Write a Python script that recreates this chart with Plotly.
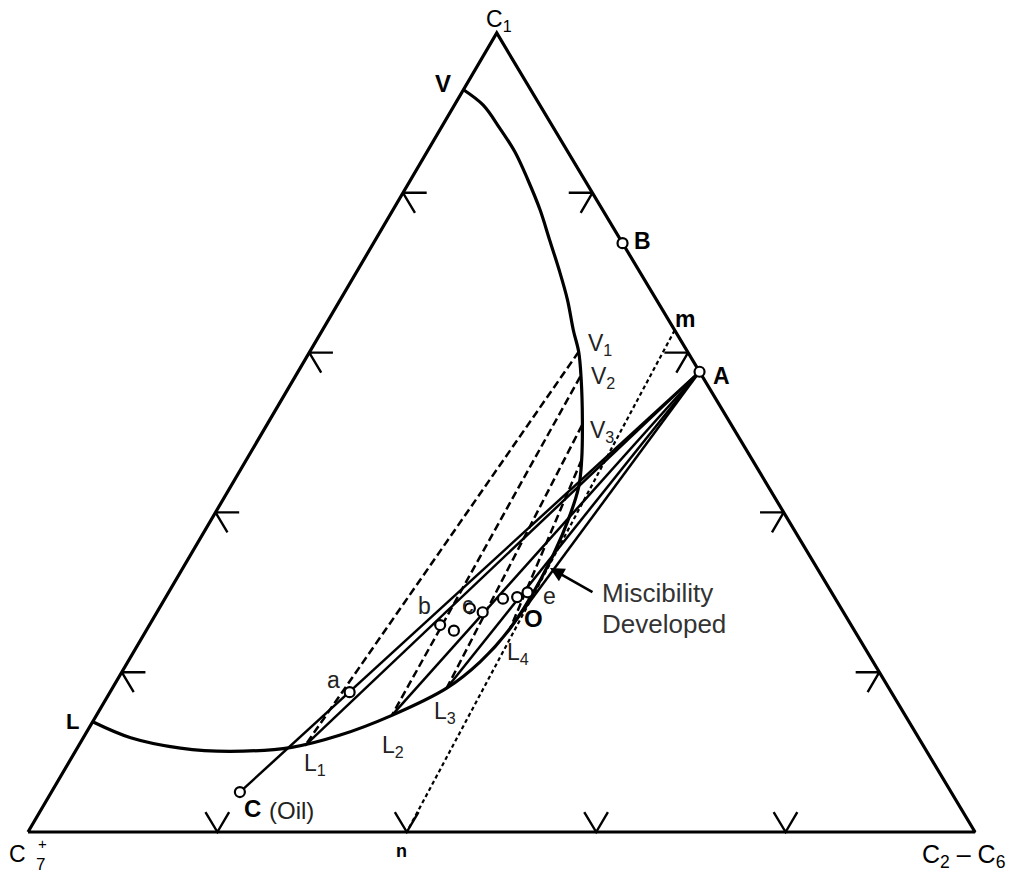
import plotly.graph_objects as go

# ---------------- data (mole fractions: C1, C2-C6; C7+ = 1 - C1 - C2C6) ----------------
# two-phase envelope: dew branch V -> plait point, then bubble branch back to L
DEW_C1 = [0.929, 0.910, 0.881, 0.851, 0.816, 0.779, 0.741, 0.703, 0.666, 0.628, 0.601,
          0.566, 0.516, 0.466, 0.431]
DEW_C26 = [0.000, 0.030, 0.062, 0.093, 0.124, 0.155, 0.184, 0.213, 0.240, 0.265, 0.284,
           0.304, 0.330, 0.354, 0.368]
BUB_C1 = [0.372, 0.315, 0.255, 0.213, 0.180, 0.146, 0.121, 0.106, 0.101, 0.105, 0.118, 0.138]
BUB_C26 = [0.380, 0.385, 0.383, 0.372, 0.353, 0.312, 0.269, 0.226, 0.163, 0.109, 0.050, 0.000]

# tie lines V_i - L_i
TIE_V_C1 = [0.601, 0.570, 0.509, 0.466]
TIE_V_C26 = [0.284, 0.301, 0.333, 0.354]
TIE_L_C1 = [0.108, 0.146, 0.180, 0.255]
TIE_L_C26 = [0.239, 0.312, 0.353, 0.383]

# injection gas A, gas B, oil C
GAS_A = (0.576, 0.424)
GAS_B = (0.737, 0.263)
OIL_C = (0.050, 0.199)

# critical (limiting) tie line m - n
CRIT_M = (0.628, 0.372)
CRIT_N = (0.000, 0.400)

# mixtures a, b, c, d, e (open circles)
MIX_C1 = [0.175, 0.259, 0.252, 0.280, 0.275, 0.292, 0.294, 0.300]
MIX_C26 = [0.253, 0.307, 0.325, 0.328, 0.344, 0.357, 0.371, 0.379]

# composition ticks along each side
TICKS = [0.2, 0.4, 0.6, 0.8]

# ---------------- helpers ----------------
APEX = 0.495   # horizontal position of the C1 apex (fraction of base)
TICK_LEN = 0.025
FONT = "Liberation Sans, Arial, sans-serif"


def xy(c1, c26):
    return c26 + APEX * c1, c1


def lines_trace(polys, width, dash="solid"):
    xs, ys = [], []
    for poly in polys:
        for (c1, c26) in poly:
            x, y = xy(c1, c26)
            xs.append(x)
            ys.append(y)
        xs.append(None)
        ys.append(None)
    return go.Scatter(x=xs, y=ys, mode="lines",
                      line=dict(color="black", width=width, dash=dash),
                      hoverinfo="skip", showlegend=False)


fig = go.Figure()

# triangle
tri = [(0, 0), (0, 1), (1, 0), (0, 0)]
fig.add_trace(lines_trace([tri], 3.2))

# chevron ticks
s = TICK_LEN
chev = []
for t in TICKS:
    chev.append([(s, t), (0, t), (s, t - s)])                 # bottom (C7+ - C2-C6)
    chev.append([(t, s), (t, 0), (t - s, s)])                 # left   (C7+ - C1)
    chev.append([(t, 1 - t - s), (t, 1 - t), (t - s, 1 - t)])  # right  (C1 - C2-C6)
fig.add_trace(lines_trace(chev, 2.4))

# binodal envelope
env = list(zip(DEW_C1, DEW_C26)) + list(zip(BUB_C1, BUB_C26))
xe, ye = zip(*[xy(a, b) for a, b in env])
fig.add_trace(go.Scatter(x=xe, y=ye, mode="lines",
                         line=dict(color="black", width=3.2, shape="spline", smoothing=1.0),
                         hoverinfo="skip", showlegend=False))

# tie lines (dashed)
ties = [[(TIE_V_C1[i], TIE_V_C26[i]), (TIE_L_C1[i], TIE_L_C26[i])] for i in range(len(TIE_V_C1))]
fig.add_trace(lines_trace(ties, 2.5, dash="8px,4px"))

# mixing lines from gas A (solid)
mix = [[GAS_A, OIL_C]] + [[GAS_A, (TIE_L_C1[i], TIE_L_C26[i])] for i in range(len(TIE_L_C1))]
fig.add_trace(lines_trace(mix, 2.5))

# critical tie line (dotted)
fig.add_trace(lines_trace([[CRIT_M, CRIT_N]], 2.2, dash="4px,3px"))

# open circles
pts = list(zip(MIX_C1, MIX_C26)) + [GAS_A, GAS_B, OIL_C]
xp, yp = zip(*[xy(a, b) for a, b in pts])
fig.add_trace(go.Scatter(x=xp, y=yp, mode="markers",
                         marker=dict(symbol="circle", size=10, color="white",
                                     line=dict(color="black", width=2.2)),
                         hoverinfo="skip", showlegend=False))

# ---------------- labels ----------------
def lab(text, x, y, size=20, xanchor="center", color="black"):
    fig.add_annotation(x=x, y=y, text=text, showarrow=False, xanchor=xanchor, yanchor="middle",
                       font=dict(family=FONT, size=size, color=color))


lab("C<sub>1</sub>", 0.497, 1.016, 23)
lab("C", -0.0116, -0.0275, 23)
lab("+", 0.0148, -0.0150, 15)
lab("7", 0.0127, -0.0405, 17)
lab("C<sub>2</sub> – C<sub>6</sub>", 0.988, -0.030, 25)
lab("<b>V</b>", 0.4382, 0.9362, 24)
lab("<b>L</b>", 0.0465, 0.1377, 22)
lab("<b>B</b>", 0.6494, 0.7397, 23)
lab("<b>m</b>", 0.6938, 0.6420, 23)
lab("<b>A</b>", 0.7318, 0.5707, 23)
lab("V<sub>1</sub>", 0.6040, 0.6100, 23, color="#222")
lab("V<sub>2</sub>", 0.6072, 0.5690, 23, color="#222")
lab("V<sub>3</sub>", 0.6061, 0.5010, 23, color="#222")
lab("a", 0.3221, 0.1900, 23, color="#222")
lab("b", 0.4192, 0.2830, 23, color="#222")
lab("c", 0.4646, 0.2840, 23, color="#222")
lab("e", 0.5502, 0.2950, 23, color="#222")
lab("<b>O</b>", 0.5333, 0.2678, 24)
lab("L<sub>4</sub>", 0.5174, 0.2240, 23, color="#222")
lab("L<sub>3</sub>", 0.4403, 0.1490, 23, color="#222")
lab("L<sub>2</sub>", 0.3854, 0.1075, 23, color="#222")
lab("L<sub>1</sub>", 0.3031, 0.0850, 23, color="#222")
lab("<b>C</b>", 0.2260, 0.0300, 24, xanchor="left")
lab("(Oil)", 0.2524, 0.0275, 24, xanchor="left", color="#222")
lab("<b>n</b>", 0.3949, -0.0238, 18)
lab("Miscibility", 0.6040, 0.2991, 26, xanchor="left", color="#333")
lab("Developed", 0.6040, 0.2603, 26, xanchor="left", color="#333")

# arrow to the miscibility zone
fig.add_annotation(x=0.5512, y=0.3304, ax=44, ay=25, text="", showarrow=True,
                   arrowhead=2, arrowsize=1.1, arrowwidth=2.6, arrowcolor="black")

fig.update_layout(
    width=1023, height=876,
    margin=dict(l=0, r=0, t=0, b=0),
    paper_bgcolor="white", plot_bgcolor="white",
    xaxis=dict(range=[-0.02957, 1.05069], visible=False, fixedrange=True),
    yaxis=dict(range=[-0.05507, 1.04130], visible=False, fixedrange=True),
    showlegend=False,
)

fig.write_html("out.html")
